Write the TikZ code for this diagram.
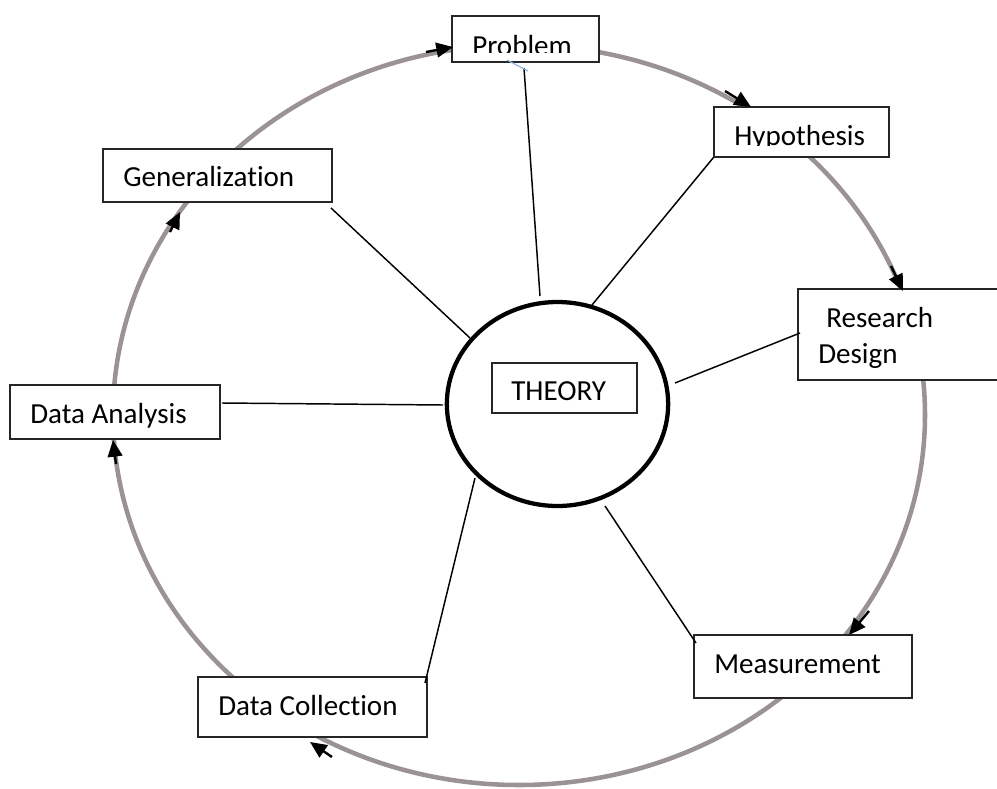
\documentclass[tikz,border=0pt]{standalone}
\usepackage{fontspec}
\setmainfont{Carlito}[RawFeature={-liga,-clig,-calt}]
\usetikzlibrary{arrows.meta,fit,shapes.geometric}
\definecolor{ringgray}{RGB}{155,147,147}
\definecolor{tickblue}{RGB}{140,180,220}
\begin{document}
\begin{tikzpicture}[x=0.75pt,y=-0.75pt,
  box/.style={draw=black!85, line width=0.9pt, fill=white, inner sep=0pt},
  lbl/.style={anchor=base west, inner sep=0pt, font=\fontsize{21.8}{26}\selectfont},
  ring/.style={draw=ringgray, line width=3.4pt},
  spoke/.style={draw=black, line width=1.1pt},
  flow/.style={draw=black, line width=1.8pt, -{Triangle[length=12.5pt,width=11pt]}}]
\clip (0,0) rectangle (997,789);

% outer research cycle
\draw[ring] (519,415) ellipse [x radius=406, y radius=370];

% stage boxes
\node[box, fit={(452,16) (599,62)}] (prob) {};
\node[box, fit={(714,107) (889,157)}] (hyp) {};
\node[box, fit={(798,289) (1010,380)}] (rd) {};
\node[box, fit={(694,635) (912,698)}] (meas) {};
\node[box, fit={(198,677) (427,737)}] (dc) {};
\node[box, fit={(10,385) (220,439)}] (da) {};
\node[box, fit={(103,149) (332,202)}] (gen) {};

% theory at the centre
\node[draw=black, line width=3.2pt, fill=white, ellipse, inner sep=0pt,
      minimum width=166pt, minimum height=153pt] (th) at (557.5,404) {};
\node[box, fit={(492,363) (637,413)}] (thbox) {};

% labels (the two top labels are cut off at the box text area)
\begin{scope}
  \clip (452,16) rectangle (599,52.7);
  \node[lbl] (tprob) at (472,55) {Problem};
\end{scope}
\begin{scope}
  \clip (714,107) rectangle (889,145.5);
  \node[lbl] (thyp) at (734,145) {Hypothesis};
\end{scope}
\node[lbl] (trd1) at (826,327) {Research};
\node[lbl] (trd2) at (818,363) {Design};
\node[lbl] (tmeas) at (714,673) {Measurement};
\node[lbl] (tdc) at (218,715) {Data Collection};
\node[lbl] (tda) at (30,423) {Data Analysis};
\node[lbl] (tgen) at (123,186) {Generalization};
\node[lbl] (tth) at (511,400) {THEORY};

% spokes from theory to each stage
\coordinate (p1) at (524,68);   \coordinate (q1) at (540,296);
\coordinate (q2) at (592,305);
\coordinate (p3) at (800,333);  \coordinate (q3) at (675,383);
\coordinate (p4) at (696,643);  \coordinate (q4) at (605,506);
\coordinate (p5) at (425,683);  \coordinate (q5) at (475,478);
\coordinate (p6) at (222,403);  \coordinate (q6) at (443,405);
\coordinate (p7) at (331,208);  \coordinate (q7) at (470,338);
\draw[spoke] (p1) -- (q1);
\draw[spoke] (hyp.south west) -- (q2);
\draw[spoke] (p3) -- (q3);
\draw[spoke] (p4) -- (q4);
\draw[spoke] (p5) -- (q5);
\draw[spoke] (p6) -- (q6);
\draw[spoke] (p7) -- (q7);
\coordinate (b1) at (507,60); \coordinate (b2) at (528,71);
\draw[tickblue, line width=0.9pt] (b1) -- (b2);

% arrowheads along the cycle
\coordinate (a1) at (426,52);  \coordinate (e1) at (453,47);
\coordinate (a2) at (725,91);  \coordinate (e2) at (751,107);
\coordinate (a3) at (891,266); \coordinate (e3) at (903,291);
\coordinate (a4) at (869,611); \coordinate (e4) at (849,635);
\coordinate (a5) at (332,757); \coordinate (e5) at (310,742);
\coordinate (a6) at (116,464); \coordinate (e6) at (113,440);
\coordinate (a7) at (170,232); \coordinate (e7) at (180,212);
\foreach \s/\e in {a1/e1,a2/e2,a3/e3,a4/e4,a5/e5,a6/e6,a7/e7}
  \draw[flow] (\s) -- (\e);
\end{tikzpicture}
\end{document}
